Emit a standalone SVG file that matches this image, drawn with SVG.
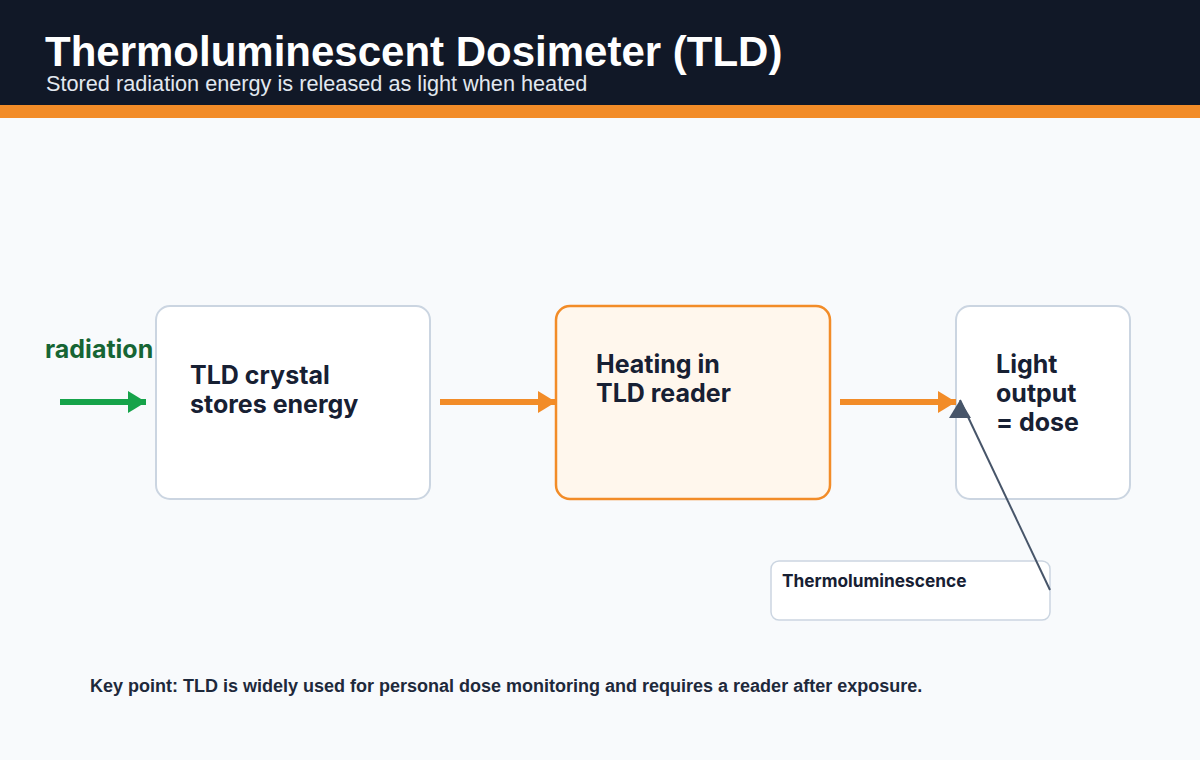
<svg xmlns="http://www.w3.org/2000/svg" width="1200" height="760" viewBox="0 0 1200 760">
<defs>
<style>
.node{fill:#ffffff;stroke:#cbd5e1;stroke-width:2}
.hot{fill:#fff7ed;stroke:#f28c28;stroke-width:2.5}
.nt{font-family:Inter,"Liberation Sans",sans-serif;font-weight:700;font-size:25px;fill:#172033}
.lbl{font-family:Inter,"Liberation Sans",sans-serif;font-weight:700;font-size:17.3px;fill:#172033}
.flow{stroke:#f28c28;stroke-width:6;fill:none}
</style>
<marker id="ao" markerUnits="userSpaceOnUse" markerWidth="20" markerHeight="22" refX="18" refY="11" orient="auto" viewBox="0 0 20 22"><path d="M0,0 L18,11 L0,22 Z" fill="#f28c28"/></marker>
<marker id="ag" markerUnits="userSpaceOnUse" markerWidth="20" markerHeight="22" refX="18" refY="11" orient="auto" viewBox="0 0 20 22"><path d="M0,0 L18,11 L0,22 Z" fill="#16a34a"/></marker>
<marker id="as" markerUnits="userSpaceOnUse" markerWidth="20" markerHeight="22" refX="18" refY="11" orient="270" viewBox="0 0 20 22"><path d="M0,0 L18,11 L0,22 Z" fill="#475569"/></marker>
</defs>
<rect width="1200" height="760" fill="#f8fafc"/>
<rect width="1200" height="105" fill="#111827"/>
<rect y="105" width="1200" height="13" fill="#f28c28"/>
<text x="45" y="66" font-family="'Liberation Sans',Arial,sans-serif" font-weight="700" font-size="42" fill="#ffffff">Thermoluminescent Dosimeter (TLD)</text>
<text x="46" y="91" font-family="'Liberation Sans',Arial,sans-serif" font-size="21.7" fill="#e2e8f0">Stored radiation energy is released as light when heated</text>

<g id="radiation-label">
<text x="45" y="358" font-family="Inter,'Liberation Sans',sans-serif" font-weight="700" font-size="25" fill="#166534">radiation</text>
</g>

<g id="node-crystal">
<rect class="node" x="156" y="306" width="274" height="193" rx="14"/>
<text class="nt" x="190" y="384">TLD crystal</text>
<text class="nt" x="190" y="413">stores energy</text>
</g>

<g id="node-heating">
<rect class="hot" x="556" y="306" width="274" height="193" rx="14"/>
<text class="nt" x="596" y="373">Heating in</text>
<text class="nt" x="596" y="402">TLD reader</text>
</g>

<g id="node-light">
<rect class="node" x="956" y="306" width="174" height="193" rx="14"/>
<text class="nt" x="996" y="373">Light</text>
<text class="nt" x="996" y="402">output</text>
<text class="nt" x="996" y="431">= dose</text>
</g>

<g id="note-thermo">
<rect x="771" y="561" width="279" height="59" rx="8" fill="#ffffff" stroke="#cbd5e1" stroke-width="1.5"/>
<text class="lbl" x="782" y="587">Thermoluminescence</text>
</g>

<g id="connectors">
<line x1="60" y1="402" x2="146" y2="402" stroke="#16a34a" stroke-width="6" marker-end="url(#ag)"/>
<line class="flow" x1="440" y1="402" x2="556" y2="402" marker-end="url(#ao)"/>
<line class="flow" x1="840" y1="402" x2="956" y2="402" marker-end="url(#ao)"/>
<line x1="1050" y1="590" x2="960" y2="400" stroke="#475569" stroke-width="2" marker-end="url(#as)"/>
</g>

<text x="90" y="692" font-family="'Liberation Sans',Arial,sans-serif" font-weight="700" font-size="18" fill="#1e293b">Key point: TLD is widely used for personal dose monitoring and requires a reader after exposure.</text>
</svg>
